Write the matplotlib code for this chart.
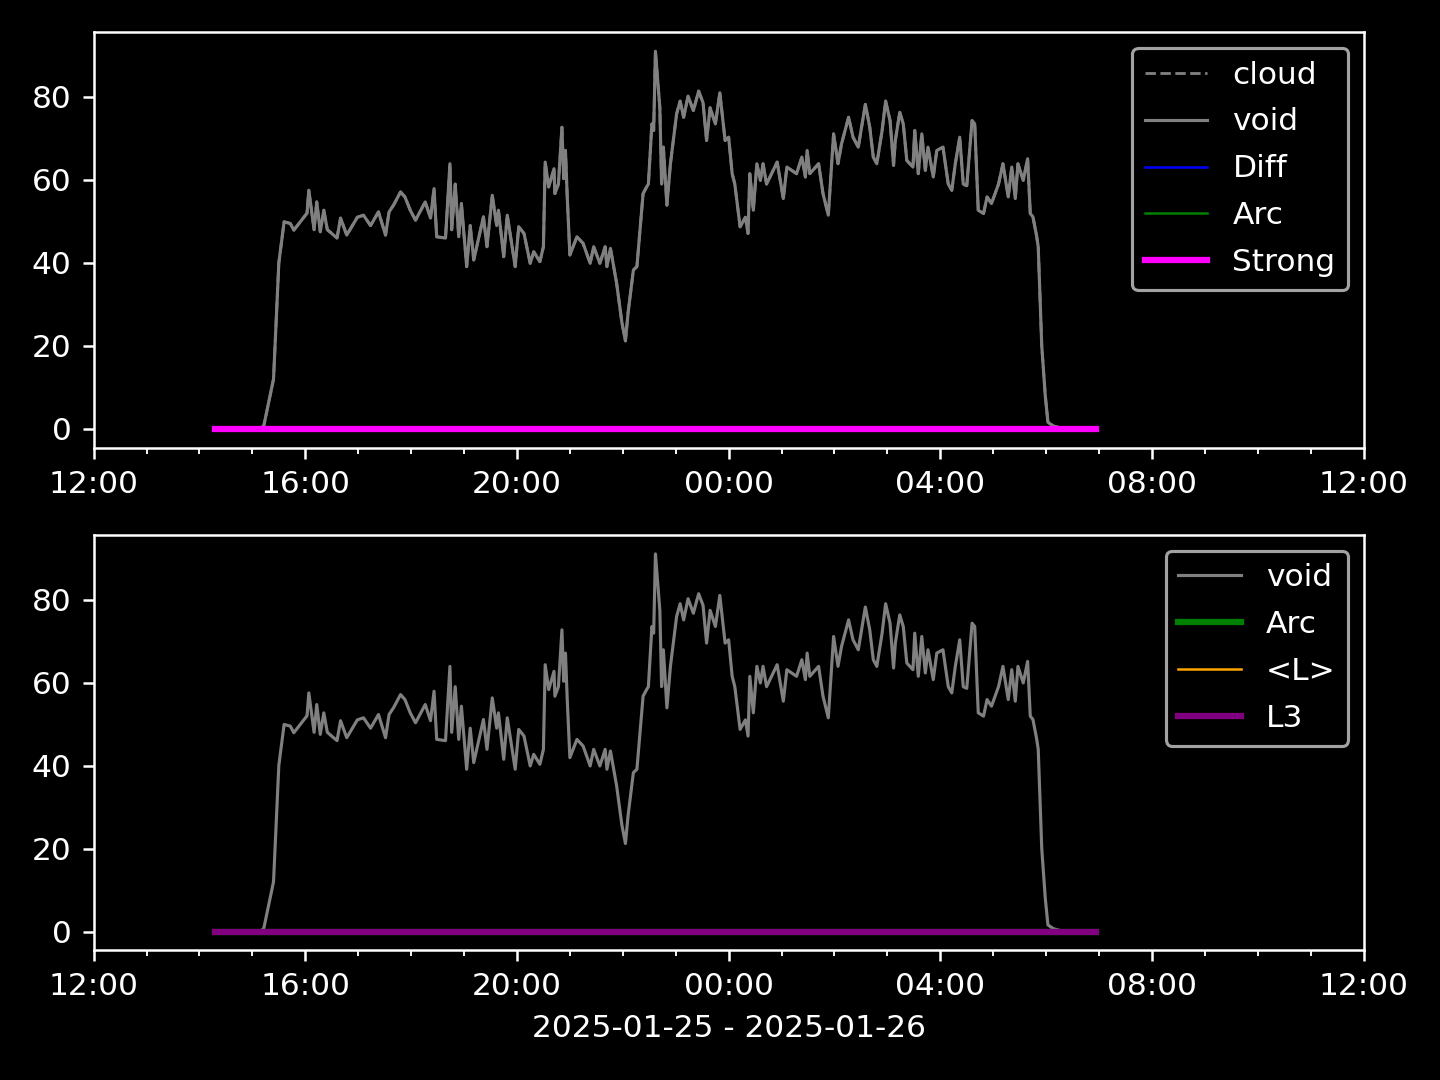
import numpy as np
import pandas as pd
import matplotlib
matplotlib.use('Agg')
import matplotlib.pyplot as plt
import matplotlib.dates as mdates

plt.style.use('dark_background')

# void level, 2025-01-25 14:18 -> 2025-01-26 06:57
void_times = [
    '01-25 14:18', '01-25 15:10', '01-25 15:13', '01-25 15:24', '01-25 15:30', '01-25 15:36',
    '01-25 15:43', '01-25 15:47', '01-25 16:02', '01-25 16:04', '01-25 16:10', '01-25 16:13',
    '01-25 16:17', '01-25 16:21', '01-25 16:25', '01-25 16:36', '01-25 16:40', '01-25 16:47',
    '01-25 16:59', '01-25 17:06', '01-25 17:14', '01-25 17:23', '01-25 17:31', '01-25 17:35',
    '01-25 17:40', '01-25 17:48', '01-25 17:53', '01-25 17:59', '01-25 18:05', '01-25 18:16',
    '01-25 18:22', '01-25 18:26', '01-25 18:29', '01-25 18:39', '01-25 18:44', '01-25 18:46',
    '01-25 18:50', '01-25 18:54', '01-25 18:57', '01-25 19:03', '01-25 19:07', '01-25 19:11',
    '01-25 19:22', '01-25 19:26', '01-25 19:32', '01-25 19:37', '01-25 19:39', '01-25 19:45',
    '01-25 19:49', '01-25 19:58', '01-25 20:02', '01-25 20:08', '01-25 20:15', '01-25 20:19',
    '01-25 20:26', '01-25 20:30', '01-25 20:32', '01-25 20:36', '01-25 20:42', '01-25 20:43',
    '01-25 20:47', '01-25 20:51', '01-25 20:53', '01-25 20:55', '01-25 20:57', '01-25 21:00',
    '01-25 21:08', '01-25 21:15', '01-25 21:23', '01-25 21:27', '01-25 21:34', '01-25 21:40',
    '01-25 21:42', '01-25 21:46', '01-25 21:53', '01-25 21:59', '01-25 22:03', '01-25 22:06',
    '01-25 22:12', '01-25 22:16', '01-25 22:23', '01-25 22:27', '01-25 22:29', '01-25 22:33',
    '01-25 22:35', '01-25 22:37', '01-25 22:42', '01-25 22:44', '01-25 22:46', '01-25 22:50',
    '01-25 22:54', '01-25 23:01', '01-25 23:05', '01-25 23:09', '01-25 23:14', '01-25 23:20',
    '01-25 23:26', '01-25 23:31', '01-25 23:35', '01-25 23:39', '01-25 23:45', '01-25 23:50',
    '01-25 23:56', '01-26 00:00', '01-26 00:04', '01-26 00:07', '01-26 00:13', '01-26 00:19',
    '01-26 00:22', '01-26 00:24', '01-26 00:28', '01-26 00:32', '01-26 00:36', '01-26 00:39',
    '01-26 00:43', '01-26 00:55', '01-26 01:02', '01-26 01:06', '01-26 01:17', '01-26 01:23',
    '01-26 01:27', '01-26 01:29', '01-26 01:32', '01-26 01:42', '01-26 01:47', '01-26 01:53',
    '01-26 01:59', '01-26 02:04', '01-26 02:08', '01-26 02:16', '01-26 02:21', '01-26 02:27',
    '01-26 02:35', '01-26 02:40', '01-26 02:44', '01-26 02:48', '01-26 02:54', '01-26 02:58',
    '01-26 03:03', '01-26 03:07', '01-26 03:09', '01-26 03:14', '01-26 03:18', '01-26 03:22',
    '01-26 03:29', '01-26 03:31', '01-26 03:35', '01-26 03:39', '01-26 03:43', '01-26 03:46',
    '01-26 03:52', '01-26 03:56', '01-26 04:03', '01-26 04:09', '01-26 04:13', '01-26 04:17',
    '01-26 04:22', '01-26 04:26', '01-26 04:30', '01-26 04:36', '01-26 04:39', '01-26 04:43',
    '01-26 04:49', '01-26 04:53', '01-26 04:58', '01-26 05:06', '01-26 05:11', '01-26 05:17',
    '01-26 05:21', '01-26 05:25', '01-26 05:28', '01-26 05:34', '01-26 05:39', '01-26 05:42',
    '01-26 05:45', '01-26 05:49', '01-26 05:51', '01-26 05:55', '01-26 05:59', '01-26 06:02',
    '01-26 06:08', '01-26 06:20', '01-26 06:57',
]
void_vals = [
    0.0, 0.2, 0.8, 12.0, 40.0, 49.9,
    49.5, 47.9, 52.0, 57.5, 48.0, 54.7,
    47.5, 52.7, 48.0, 46.0, 50.8, 46.7,
    51.0, 51.5, 49.0, 52.3, 46.7, 52.3,
    53.9, 57.1, 55.9, 52.7, 50.3, 54.7,
    50.8, 57.9, 46.3, 46.0, 63.9, 48.0,
    59.0, 46.3, 54.3, 39.1, 49.0, 40.7,
    51.1, 43.9, 56.3, 49.0, 52.7, 41.5,
    51.5, 39.1, 48.7, 47.1, 39.9, 42.7,
    40.3, 43.9, 64.3, 58.3, 62.7, 56.7,
    59.0, 72.7, 60.3, 67.1, 55.9, 41.9,
    46.3, 44.7, 39.9, 43.9, 39.9, 43.9,
    39.1, 43.5, 35.1, 25.6, 21.2, 28.0,
    38.3, 39.1, 56.7, 58.3, 59.0, 73.5,
    71.9, 91.0, 77.4, 59.0, 67.9, 53.9,
    63.9, 75.9, 79.0, 75.1, 80.2, 76.7,
    81.4, 78.6, 69.5, 77.4, 73.5, 81.0,
    69.5, 70.3, 61.5, 59.0, 48.7, 51.0,
    47.1, 61.5, 52.7, 63.9, 59.9, 63.9,
    59.0, 64.3, 55.5, 63.1, 61.5, 65.5,
    60.7, 67.1, 61.5, 63.9, 56.7, 51.5,
    71.1, 63.9, 68.7, 75.1, 70.3, 67.9,
    78.2, 72.7, 65.5, 63.9, 71.9, 79.0,
    74.3, 63.5, 69.5, 76.3, 73.5, 64.7,
    63.1, 71.9, 61.5, 71.1, 62.3, 67.9,
    60.7, 67.1, 67.9, 59.0, 57.5, 63.9,
    70.3, 59.0, 58.6, 74.3, 73.5, 52.7,
    51.9, 55.9, 54.3, 59.0, 63.9, 55.9,
    63.1, 55.5, 63.9, 59.9, 65.1, 51.9,
    51.1, 46.7, 43.9, 20.0, 8.0, 1.6,
    0.7, 0.0, 0.0,
]

t = pd.to_datetime(['2025-' + s for s in void_times])
void = np.array(void_vals)
cloud = void.copy()
zeros = np.zeros(len(void))

fig, (ax1, ax2) = plt.subplots(2, 1, figsize=(6.4, 4.8), dpi=225)
fig.subplots_adjust(left=0.065, right=0.947, top=0.970, bottom=0.120, hspace=0.21)

ax1.plot(t, cloud, color='gray', lw=0.9, ls='--', label='cloud')
ax1.plot(t, void, color='gray', lw=1, label='void')
ax1.plot(t, zeros, color='blue', lw=0.8, label='Diff')
ax1.plot(t, zeros, color='green', lw=0.8, label='Arc')
ax1.plot(t, zeros, color='magenta', lw=2, label='Strong')
ax1.legend(loc='upper right', labelspacing=0.575)

ax2.plot(t, void, color='gray', lw=1, label='void')
ax2.plot(t, zeros, color='green', lw=2, label='Arc')
ax2.plot(t, zeros, color='orange', lw=0.8, label='<L>')
ax2.plot(t, zeros, color='purple', lw=2, label='L3')
ax2.legend(loc='upper right', labelspacing=0.575)
ax2.set_xlabel('2025-01-25 - 2025-01-26')

for ax in (ax1, ax2):
    ax.set_xlim(pd.Timestamp('2025-01-25 12:00'), pd.Timestamp('2025-01-26 12:00'))
    ax.xaxis.set_major_locator(mdates.HourLocator(byhour=[0, 4, 8, 12, 16, 20]))
    ax.xaxis.set_minor_locator(mdates.HourLocator())
    ax.xaxis.set_major_formatter(mdates.DateFormatter('%H:%M'))

plt.savefig('out.png')
